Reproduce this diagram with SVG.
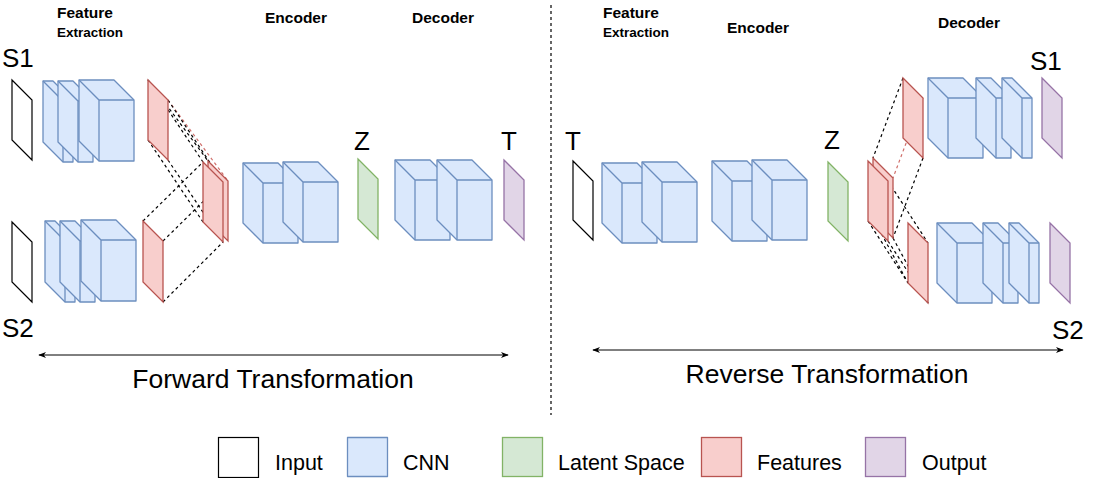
<svg xmlns="http://www.w3.org/2000/svg" width="1101" height="478" viewBox="0 0 1101 478">
<defs>
<style>
text{font-family:"Liberation Sans",Arial,sans-serif;fill:#000}
.title{font-weight:bold;font-size:15.5px}
.sub{font-weight:bold;font-size:13.5px}
.lbl{font-size:26px}
.big{font-size:26.5px}
.leg{font-size:21.5px}
.inp{fill:#fff;stroke:#000;stroke-width:1.2}
.cnn{fill:#dae8fc;stroke:#6c8ebf;stroke-width:1.3;stroke-linejoin:round}
.cnnl{fill:none;stroke:#6c8ebf;stroke-width:1.3}
.feat{fill:#f8cecc;stroke:#b85450;stroke-width:1.3}
.lat{fill:#d5e8d4;stroke:#82b366;stroke-width:1.3}
.out{fill:#e1d5e7;stroke:#9673a6;stroke-width:1.3}
.dl{fill:none;stroke:#000;stroke-width:1.2;stroke-dasharray:3 3}
.dr{fill:none;stroke:#d0706c;stroke-width:1.2;stroke-dasharray:3 3}
.arr{fill:none;stroke:#000;stroke-width:1;marker-start:url(#ah);marker-end:url(#ah)}
</style>
<marker id="ah" viewBox="0 0 10 10" refX="9" refY="5" markerWidth="8" markerHeight="8" markerUnits="userSpaceOnUse" orient="auto-start-reverse">
<path d="M0,1 L10,5 L0,9 L3,5 Z" fill="#000"/>
</marker>
</defs>
<rect width="1101" height="478" fill="#fff"/>

<g id="titles">
<text class="title" x="57" y="18">Feature</text>
<text class="sub" x="57" y="37">Extraction</text>
<text class="title" x="265" y="23">Encoder</text>
<text class="title" x="412" y="23">Decoder</text>
<text class="title" x="603" y="18">Feature</text>
<text class="sub" x="603" y="37">Extraction</text>
<text class="title" x="727" y="33">Encoder</text>
<text class="title" x="938" y="28">Decoder</text>
</g>

<line x1="551" y1="5" x2="551" y2="415" class="dl"/>

<g id="connectors">
<line class="dl" x1="148" y1="80" x2="203" y2="162"/>
<line class="dl" x1="148" y1="80" x2="208" y2="161"/>
<line class="dr" x1="168" y1="100" x2="228" y2="181"/>
<line class="dl" x1="168" y1="100" x2="223" y2="182"/>
<line class="dl" x1="148" y1="140" x2="203" y2="222"/>
<line class="dl" x1="168" y1="160" x2="223" y2="242"/>
<line class="dl" x1="143" y1="221" x2="203" y2="162"/>
<line class="dl" x1="163" y1="241" x2="223" y2="182"/>
<line class="dl" x1="163" y1="302" x2="223" y2="242"/>

<line class="dl" x1="903" y1="78" x2="873" y2="158"/>
<line class="dr" x1="923" y1="98" x2="893" y2="178"/>
<line class="dl" x1="923" y1="158" x2="893" y2="238"/>
<line class="dl" x1="888" y1="181" x2="928" y2="243"/>
<line class="dl" x1="868" y1="221" x2="908" y2="283"/>
<line class="dl" x1="873" y1="218" x2="908" y2="283"/>
<line class="dl" x1="888" y1="241" x2="928" y2="303"/>
<line class="dl" x1="893" y1="238" x2="928" y2="303"/>

<line class="arr" x1="39" y1="355" x2="508" y2="355"/>
<line class="arr" x1="593" y1="350" x2="1063" y2="350"/>
</g>

<g id="S1-input"><text class="lbl" x="2" y="67">S1</text><path class="inp" d="M12,80 L32,100 L32,160 L12,140 Z"/></g>
<g id="S2-input"><text class="lbl" x="2" y="337">S2</text><path class="inp" d="M12,222 L32,242 L32,302 L12,282 Z"/></g>

<g id="S1-cnn">
<path class="cnn" d="M43,81 L53,81 L73,101 L73,162 L63,162 L43,142 Z"/><path class="cnnl" d="M43,81 L63,101 L73,101 M63,101 L63,162"/>
<path class="cnn" d="M58,81 L73,81 L93,101 L93,162 L78,162 L58,142 Z"/><path class="cnnl" d="M58,81 L78,101 L93,101 M78,101 L78,162"/>
<path class="cnn" d="M79,80 L114,80 L134,100 L134,161 L99,161 L79,141 Z"/><path class="cnnl" d="M79,80 L99,100 L134,100 M99,100 L99,161"/>
</g>
<g id="S2-cnn">
<path class="cnn" d="M45,221 L55,221 L75,241 L75,302 L65,302 L45,282 Z"/><path class="cnnl" d="M45,221 L65,241 L75,241 M65,241 L65,302"/>
<path class="cnn" d="M60,221 L75,221 L95,241 L95,302 L80,302 L60,282 Z"/><path class="cnnl" d="M60,221 L80,241 L95,241 M80,241 L80,302"/>
<path class="cnn" d="M81,220 L116,220 L136,240 L136,301 L101,301 L81,281 Z"/><path class="cnnl" d="M81,220 L101,240 L136,240 M101,240 L101,301"/>
</g>

<g id="S1-features"><path class="feat" d="M148,80 L168,100 L168,160 L148,140 Z"/></g>
<g id="S2-features"><path class="feat" d="M143,221 L163,241 L163,302 L143,282 Z"/></g>
<g id="merged-features">
<path class="feat" d="M208,161 L228,181 L228,241 L208,221 Z"/>
<path class="feat" d="M203,162 L223,182 L223,242 L203,222 Z"/>
</g>

<g id="encoder-L">
<path class="cnn" d="M243,163 L278,163 L298,183 L298,243 L263,243 L243,223 Z"/><path class="cnnl" d="M243,163 L263,183 L298,183 M263,183 L263,243"/>
<path class="cnn" d="M283,162 L318,162 L338,182 L338,242 L303,242 L283,222 Z"/><path class="cnnl" d="M283,162 L303,182 L338,182 M303,182 L303,242"/>
</g>
<g id="Z-L"><text class="lbl" x="354" y="150">Z</text><path class="lat" d="M358,159 L378,179 L378,239 L358,219 Z"/></g>
<g id="decoder-L">
<path class="cnn" d="M395,160 L430,160 L450,180 L450,240 L415,240 L395,220 Z"/><path class="cnnl" d="M395,160 L415,180 L450,180 M415,180 L415,240"/>
<path class="cnn" d="M437,160 L472,160 L492,180 L492,240 L457,240 L437,220 Z"/><path class="cnnl" d="M437,160 L457,180 L492,180 M457,180 L457,240"/>
</g>
<g id="T-out"><text class="lbl" x="501" y="150">T</text><path class="out" d="M504,160 L524,180 L524,240 L504,220 Z"/></g>

<g id="T-input"><text class="lbl" x="565" y="150">T</text><path class="inp" d="M573,161 L593,181 L593,240 L573,220 Z"/></g>
<g id="T-cnn">
<path class="cnn" d="M602,163 L637,163 L657,183 L657,243 L622,243 L602,223 Z"/><path class="cnnl" d="M602,163 L622,183 L657,183 M622,183 L622,243"/>
<path class="cnn" d="M642,162 L677,162 L697,182 L697,242 L662,242 L642,222 Z"/><path class="cnnl" d="M642,162 L662,182 L697,182 M662,182 L662,242"/>
</g>
<g id="encoder-R">
<path class="cnn" d="M712,161 L747,161 L767,181 L767,241 L732,241 L712,221 Z"/><path class="cnnl" d="M712,161 L732,181 L767,181 M732,181 L732,241"/>
<path class="cnn" d="M752,160 L787,160 L807,180 L807,240 L772,240 L752,220 Z"/><path class="cnnl" d="M752,160 L772,180 L807,180 M772,180 L772,240"/>
</g>
<g id="Z-R"><text class="lbl" x="824" y="149">Z</text><path class="lat" d="M828,162 L848,182 L848,241 L828,221 Z"/></g>
<g id="merged-features-R">
<path class="feat" d="M873,158 L893,178 L893,238 L873,218 Z"/>
<path class="feat" d="M868,161 L888,181 L888,241 L868,221 Z"/>
</g>
<g id="S1-features-R"><path class="feat" d="M903,78 L923,98 L923,158 L903,138 Z"/></g>
<g id="S2-features-R"><path class="feat" d="M908,223 L928,243 L928,303 L908,283 Z"/></g>
<g id="decoder-S1">
<path class="cnn" d="M928,78 L963,78 L983,98 L983,158 L948,158 L928,138 Z"/><path class="cnnl" d="M928,78 L948,98 L983,98 M948,98 L948,158"/>
<path class="cnn" d="M976,78 L991,78 L1011,98 L1011,158 L996,158 L976,138 Z"/><path class="cnnl" d="M976,78 L996,98 L1011,98 M996,98 L996,158"/>
<path class="cnn" d="M1002,78 L1012,78 L1032,98 L1032,158 L1022,158 L1002,138 Z"/><path class="cnnl" d="M1002,78 L1022,98 L1032,98 M1022,98 L1022,158"/>
</g>
<g id="decoder-S2">
<path class="cnn" d="M937,223 L972,223 L992,243 L992,303 L957,303 L937,283 Z"/><path class="cnnl" d="M937,223 L957,243 L992,243 M957,243 L957,303"/>
<path class="cnn" d="M983,223 L998,223 L1018,243 L1018,303 L1003,303 L983,283 Z"/><path class="cnnl" d="M983,223 L1003,243 L1018,243 M1003,243 L1003,303"/>
<path class="cnn" d="M1009,223 L1019,223 L1039,243 L1039,303 L1029,303 L1009,283 Z"/><path class="cnnl" d="M1009,223 L1029,243 L1039,243 M1029,243 L1029,303"/>
</g>
<g id="S1-out"><text class="lbl" x="1030" y="70">S1</text><path class="out" d="M1042,78 L1062,98 L1062,158 L1042,138 Z"/></g>
<g id="S2-out"><text class="lbl" x="1052" y="339">S2</text><path class="out" d="M1050,223 L1070,243 L1070,303 L1050,283 Z"/></g>

<g id="captions">
<text class="big" x="273" y="388" text-anchor="middle">Forward Transformation</text>
<text class="big" x="827" y="383" text-anchor="middle">Reverse Transformation</text>
</g>

<g id="legend">
<rect class="inp" x="218.5" y="437.5" width="40" height="40"/><text class="leg" x="275" y="470">Input</text>
<rect class="cnn" x="347.5" y="437.5" width="40" height="39"/><text class="leg" x="403" y="470">CNN</text>
<rect class="lat" x="502.5" y="437.5" width="40" height="39"/><text class="leg" x="558" y="470">Latent Space</text>
<rect class="feat" x="701.5" y="437.5" width="40" height="39"/><text class="leg" x="757" y="470">Features</text>
<rect class="out" x="865.5" y="437.5" width="40" height="39"/><text class="leg" x="922" y="470">Output</text>
</g>
</svg>
